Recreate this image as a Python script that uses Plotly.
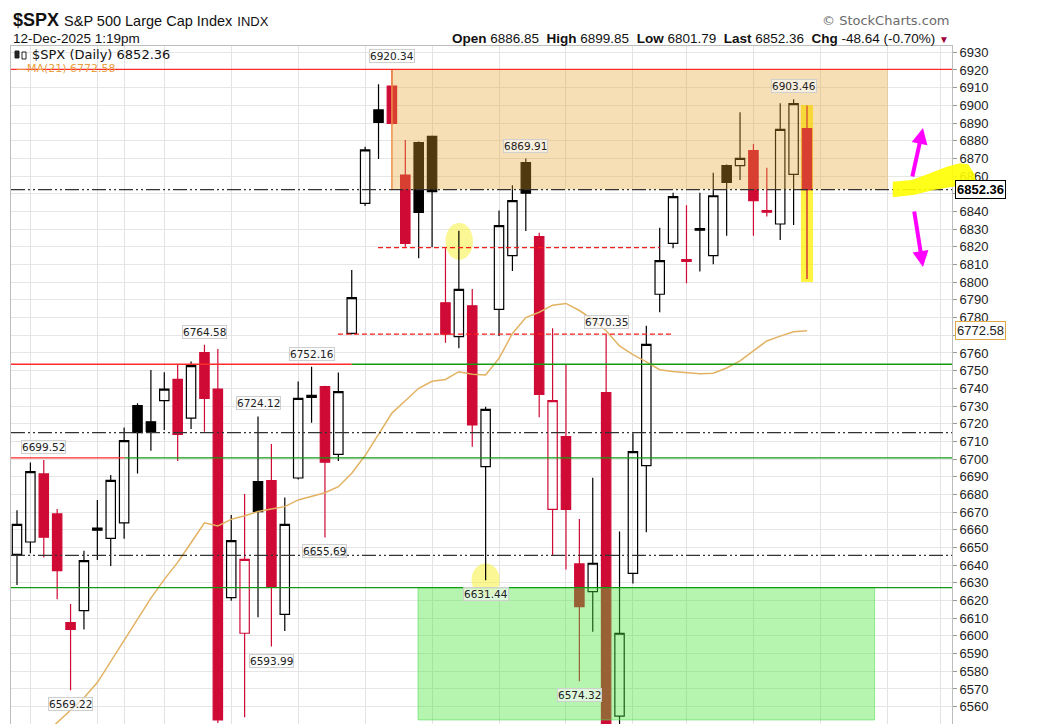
import plotly.graph_objects as go

# ---------------- data ----------------
# trading-day index 0..59  = 19-Sep-2025 .. 12-Dec-2025
days = list(range(60))
opens = [6646.1, 6653.1, 6691.6, 6669.0, 6607.5, 6614.3, 6661.0, 6655.2, 6663.9, 6730.2,
         6721.1, 6733.0, 6745.1, 6723.2, 6760.2, 6739.6, 6621.6, 6601.5, 6687.2, 6687.8,
         6612.2, 6689.3, 6736.0, 6741.0, 6702.7, 6771.1, 6844.6, 6897.4, 6910.9, 6860.6,
         6878.9, 6882.5, 6788.4, 6769.2, 6786.7, 6695.7, 6784.6, 6815.0, 6867.6, 6825.8,
         6671.6, 6712.7, 6640.7, 6625.0, 6737.6, 6554.7, 6635.4, 6696.3, 6793.2, 6822.0,
         6812.8, 6830.3, 6815.0, 6865.9, 6865.9, 6874.4, 6840.5, 6832.9, 6861.0, 6886.85]
highs = [6671.0, 6698.0, 6699.52, 6671.8, 6618.1, 6648.2, 6676.9, 6691.0, 6717.8, 6731.5,
         6750.4, 6749.1, 6753.2, 6755.1, 6764.58, 6762.2, 6668.4, 6680.3, 6724.12, 6708.5,
         6678.2, 6743.8, 6752.16, 6741.5, 6748.9, 6806.9, 6876.6, 6911.9, 6920.34, 6880.4,
         6879.5, 6883.0, 6819.2, 6829.1, 6796.2, 6729.6, 6840.5, 6854.8, 6869.91, 6828.0,
         6773.9, 6753.6, 6666.1, 6689.5, 6770.35, 6659.1, 6714.6, 6775.4, 6830.8, 6850.6,
         6843.5, 6850.6, 6861.9, 6866.5, 6896.1, 6878.2, 6864.7, 6901.2, 6903.46, 6899.85]
lows = [6628.8, 6646.7, 6644.3, 6620.7, 6569.22, 6603.7, 6642.9, 6639.6, 6655.0, 6691.9,
        6704.7, 6716.4, 6698.9, 6717.0, 6715.5, 6550.8, 6619.9, 6554.0, 6610.5, 6593.99,
        6602.8, 6688.5, 6720.6, 6655.69, 6698.9, 6770.5, 6843.1, 6869.7, 6889.0, 6820.1,
        6813.5, 6819.7, 6765.8, 6762.6, 6707.0, 6631.44, 6769.6, 6806.3, 6829.0, 6723.6,
        6645.6, 6637.6, 6574.32, 6602.4, 6535.0, 6521.9, 6629.7, 6658.6, 6783.0, 6819.2,
        6799.4, 6806.0, 6810.1, 6826.3, 6857.8, 6826.3, 6837.1, 6823.9, 6832.4, 6801.79]
closes = [6663.1, 6692.9, 6655.8, 6636.9, 6603.7, 6642.6, 6659.8, 6688.0, 6710.4, 6714.9,
          6715.6, 6739.5, 6714.0, 6752.8, 6734.3, 6552.5, 6653.9, 6643.3, 6670.3, 6627.5,
          6663.1, 6734.3, 6734.8, 6698.2, 6738.1, 6791.3, 6874.8, 6890.4, 6889.8, 6822.0,
          6839.5, 6851.2, 6770.7, 6796.0, 6719.3, 6728.1, 6832.0, 6846.1, 6850.3, 6736.6,
          6733.0, 6671.6, 6616.6, 6641.1, 6538.8, 6601.5, 6704.2, 6764.9, 6812.2, 6848.4,
          6811.8, 6829.4, 6848.9, 6856.5, 6870.0, 6846.1, 6839.6, 6886.4, 6901.00, 6852.36]
prior_close = 6631.96   # close before the first visible bar

ma21 = [None, None, 6544.0, 6551.0, 6557.5, 6565.0, 6573.6, 6585.4, 6597.7, 6609.6,
        6621.4, 6632.0, 6641.6, 6652.7, 6664.0, 6662.2, 6665.9, 6668.0, 6670.3, 6671.8,
        6673.1, 6676.9, 6678.8, 6681.0, 6684.4, 6692.0, 6702.0, 6714.0, 6726.0, 6733.0,
        6740.0, 6744.0, 6745.0, 6749.4, 6748.0, 6747.5, 6757.0, 6771.0, 6780.0, 6783.0,
        6787.0, 6788.0, 6784.0, 6779.0, 6772.6, 6764.0, 6759.0, 6755.0, 6750.5, 6749.5,
        6749.0, 6748.2, 6748.5, 6751.5, 6755.5, 6761.0, 6766.8, 6769.5, 6772.0, 6772.58]

week_starts = [1, 6, 8, 11, 16, 21, 26, 31, 36, 41, 46, 50, 55, 60, 65, 69]
y_ticks = list(range(6560, 6931, 10))

callouts_high = [2, 14, 18, 22, 28, 38, 44, 58]
callouts_low = [4, 19, 23, 35, 42]

# drawn levels
lvl_top = 6920.34
lvl_dashA = 6819.6
lvl_dashB = 6770.6
lvl_mid = 6753.6
lvl_dd1 = 6714.9
lvl_low1 = 6700.7
lvl_dd2 = 6645.6
lvl_green = 6627.3

# ---------------- figure ----------------
OFF = 8                      # default page margin of the html body
W, H = 1064 - OFF, 724 - OFF
ML, MR, MT, MB = 11 - OFF, 112, 46 - OFF, 0
PH = H - MT - MB
PW = W - ML - MR
XR = [-0.448, 69.83]
YR = [6550.2, 6933.56]


def py(px):                  # page pixel row -> paper y
    return (H + OFF - MB - px) / PH


def pxx(px):                 # page pixel column -> paper x
    return (px - OFF - ML) / PW


prev = [prior_close] + closes[:-1]
blk = [i for i in days if closes[i] >= prev[i]]
red = [i for i in days if closes[i] < prev[i]]

RED = "#cf0a35"
fig = go.Figure()


def candle(idx, col):
    return go.Candlestick(
        x=[days[i] for i in idx], open=[opens[i] for i in idx], high=[highs[i] for i in idx],
        low=[lows[i] for i in idx], close=[closes[i] for i in idx],
        increasing=dict(line=dict(color=col, width=1.2), fillcolor="rgba(0,0,0,0)"),
        decreasing=dict(line=dict(color=col, width=1.2), fillcolor=col),
        whiskerwidth=0, showlegend=False, hoverinfo="skip")


fig.add_trace(candle(blk, "#000000"))
fig.add_trace(candle(red, RED))
fig.add_trace(go.Scatter(x=days, y=ma21, mode="lines", line=dict(color="#e2b262", width=1.5),
                         showlegend=False, hoverinfo="skip"))

shapes = []
# highlights below candles
shapes.append(dict(type="rect", xref="x", yref="y", x0=days[-1] - 0.45, x1=days[-1] + 0.45,
                   y0=lows[-1] - 1.7, y1=highs[-1] + 0.4, fillcolor="rgba(255,240,0,0.75)",
                   line=dict(width=0), layer="between"))
shapes.append(dict(type="circle", xref="x", yref="y", x0=32.0, x1=34.05,
                   y0=highs[33] - 16.5, y1=highs[33] + 4.4, fillcolor="rgba(245,240,60,0.55)",
                   line=dict(width=0), layer="between"))
shapes.append(dict(type="circle", xref="x", yref="y", x0=33.95, x1=36.05,
                   y0=lows[35] - 9.2, y1=lows[35] + 9.5, fillcolor="rgba(245,240,60,0.55)",
                   line=dict(width=0), layer="between"))
# zones (drawn over candles, translucent)
shapes.append(dict(type="rect", xref="x", yref="y", x0=28, x1=65.05, y0=closes[-1], y1=highs[28],
                   fillcolor="rgba(232,164,44,0.35)", line=dict(width=0), layer="above"))
shapes.append(dict(type="line", xref="x", yref="y", x0=28, x1=28, y0=closes[-1], y1=highs[28],
                   line=dict(color="#f0904a", width=1.5), layer="above"))
shapes.append(dict(type="rect", xref="x", yref="y", x0=29.95, x1=64.05, y0=closes[15], y1=lvl_green,
                   fillcolor="rgba(70,230,58,0.40)", line=dict(color="rgba(90,220,90,0.6)", width=1),
                   layer="above"))

DD = "14px,3px,2px,3px,2px,3px"


def hline(y, col, x0=None, x1=None, dash="solid", w=1.3):
    if x0 is None:
        shapes.append(dict(type="line", xref="paper", yref="y", x0=0, x1=1, y0=y, y1=y,
                           line=dict(color=col, width=w, dash=dash), layer="above"))
    else:
        shapes.append(dict(type="line", xref="x", yref="y", x0=x0, x1=x1, y0=y, y1=y,
                           line=dict(color=col, width=w, dash=dash), layer="above"))


hline(lvl_top, "#ff2a2a")
hline(closes[-1], "#333333", dash=DD, w=1.3)
hline(lvl_dashA, "#ff1a1a", 26.96, 48.0, dash="5px,3px", w=1.3)
hline(lvl_dashB, "#ff1a1a", 23.97, 49.0, dash="5px,3px", w=1.3)
hline(lvl_mid, "#ff2a2a", XR[0], 25.0)
hline(lvl_mid, "#139a13", 25.0, XR[1])
hline(lvl_dd1, "#333333", dash=DD)
hline(lvl_low1, "#ff2a2a", XR[0], 8.05)
hline(lvl_low1, "#139a13", 8.05, XR[1])
hline(lvl_dd2, "#333333", dash=DD)
hline(lvl_green, "#139a13")

# yellow hand-drawn highlight near the last price label (page-pixel outline)
scr = [(892.7, 181.7), (911.7, 180), (930, 173.3), (946.7, 166.7), (960, 163.3), (968.3, 164.3),
       (975, 175), (976.7, 197.3), (970, 197.3), (967.3, 186.7), (953.3, 186.7), (933.3, 190),
       (913.3, 195), (892.7, 197.3)]
path = "M " + " L ".join(f"{pxx(a):.4f},{py(b):.4f}" for a, b in scr) + " Z"
shapes.append(dict(type="path", xref="paper", yref="paper", path=path,
                   fillcolor="rgba(255,255,0,0.9)", line=dict(width=0), layer="above"))
# small candle glyph in the in-plot legend
shapes.append(dict(type="rect", xref="paper", yref="paper", x0=pxx(15), x1=pxx(19),
                   y0=py(58), y1=py(51), fillcolor="#222", line=dict(color="#222", width=1)))
shapes.append(dict(type="rect", xref="paper", yref="paper", x0=pxx(22), x1=pxx(26),
                   y0=py(59), y1=py(52), fillcolor="white", line=dict(color="#222", width=1)))

ann = []
LBL = dict(family="DejaVu Sans", size=10.5, color="#222222")
for i in callouts_high:
    ann.append(dict(x=days[i], y=highs[i], xref="x", yref="y", text=f"{highs[i]:.2f}",
                    showarrow=False, yanchor="bottom", yshift=6, font=LBL,
                    bgcolor="rgba(250,250,250,0.6)", bordercolor="#cfcfcf", borderwidth=1, borderpad=0))
for i in callouts_low:
    ann.append(dict(x=days[i], y=lows[i], xref="x", yref="y", text=f"{lows[i]:.2f}",
                    showarrow=False, yanchor="top", yshift=-7, font=LBL,
                    bgcolor="rgba(250,250,250,0.6)", bordercolor="#cfcfcf", borderwidth=1, borderpad=0))

# header
ann.append(dict(xref="paper", yref="paper", x=pxx(11), y=py(20), xanchor="left", yanchor="middle",
                showarrow=False, font=dict(family="Liberation Sans", size=18, color="#111"),
                text="<b>$SPX</b> <span style='font-size:14.5px'>S&amp;P 500 Large Cap Index</span>"
                     " <span style='font-size:13px'>INDX</span>"))
ann.append(dict(xref="paper", yref="paper", x=pxx(11), y=py(38), xanchor="left", yanchor="middle",
                showarrow=False, font=dict(family="Liberation Sans", size=13.5, color="#111"),
                text="12-Dec-2025 1:19pm"))
ann.append(dict(xref="paper", yref="paper", x=1.0, y=py(21), xanchor="right", yanchor="middle",
                showarrow=False, font=dict(family="DejaVu Sans", size=13, color="#6a6a6a"),
                text="© StockCharts.com"))
chg = closes[-1] - closes[-2]
pct = chg / closes[-2] * 100
ohlc = (f"<b>Open</b> {opens[-1]:.2f}&nbsp; <b>High</b> {highs[-1]:.2f}&nbsp; "
        f"<b>Low</b> {lows[-1]:.2f}&nbsp; <b>Last</b> {closes[-1]:.2f}&nbsp; "
        f"<b>Chg</b> {chg:.2f} ({pct:.2f}%) <span style='color:#a0003c;font-size:10px'>▼</span>")
ann.append(dict(xref="paper", yref="paper", x=0.999, y=py(38), xanchor="right", yanchor="middle",
                showarrow=False, font=dict(family="Liberation Sans", size=13.5, color="#111"),
                text=ohlc))
# in-plot legend
ann.append(dict(xref="paper", yref="paper", x=pxx(30), y=py(54), xanchor="left", yanchor="middle",
                showarrow=False, font=dict(family="DejaVu Sans", size=13, color="#111"),
                text=f"$SPX (Daily) {closes[-1]:.2f}"))
ann.append(dict(xref="paper", yref="paper", x=pxx(14), y=py(68), xanchor="left", yanchor="middle",
                showarrow=False, font=dict(family="DejaVu Sans", size=11, color="#e8a040"),
                text=f"—MA(21) {ma21[-1]:.2f}"))
# right-axis value tags
ann.append(dict(xref="paper", yref="y", x=1.0, y=closes[-1], xanchor="left", yanchor="middle",
                xshift=3, showarrow=False, text=f"<b>{closes[-1]:.2f}</b>",
                font=dict(family="Liberation Sans", size=13, color="#000"),
                bgcolor="white", bordercolor="#000", borderwidth=1, borderpad=1))
ann.append(dict(xref="paper", yref="y", x=1.0, y=ma21[-1], xanchor="left", yanchor="middle",
                xshift=3, showarrow=False, text=f"{ma21[-1]:.2f}",
                font=dict(family="Liberation Sans", size=13, color="#222"),
                bgcolor="white", bordercolor="#e0a848", borderwidth=1, borderpad=1))
# magenta hand-drawn arrows
ann.append(dict(xref="paper", yref="paper", x=pxx(923), y=py(128), ax=-11, ay=50, text="",
                showarrow=True, arrowhead=2, arrowsize=0.8, arrowwidth=4, arrowcolor="#ff00ff"))
ann.append(dict(xref="paper", yref="paper", x=pxx(923), y=py(267), ax=-9, ay=-57, text="",
                showarrow=True, arrowhead=2, arrowsize=0.8, arrowwidth=4, arrowcolor="#ff00ff"))

fig.update_layout(
    width=W, height=H, margin=dict(l=ML, r=MR, t=MT, b=MB, pad=0),
    paper_bgcolor="white", plot_bgcolor="white",
    boxgap=0.3, boxgroupgap=0, boxmode="overlay",
    shapes=shapes, annotations=ann, showlegend=False,
    xaxis=dict(range=XR, tickvals=week_starts, showticklabels=False, ticks="",
               showgrid=True, gridcolor="#e3e3e3", gridwidth=1, zeroline=False,
               showline=True, linecolor="#bdbdbd", mirror=True, rangeslider=dict(visible=False)),
    yaxis=dict(range=YR, side="right", tickvals=y_ticks, ticks="outside", ticklen=4,
               tickcolor="#999", tickfont=dict(family="Liberation Sans", size=13, color="#222"),
               showgrid=True, gridcolor="#e6e6e6", gridwidth=1, zeroline=False,
               showline=True, linecolor="#bdbdbd", mirror=True),
)

fig.write_html("out.html")
